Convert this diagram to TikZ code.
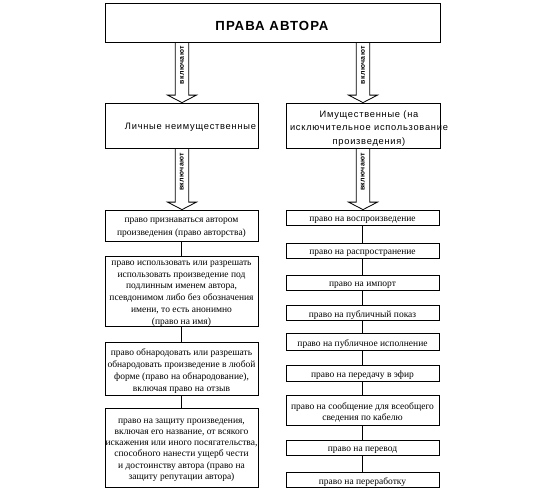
\documentclass[tikz,border=0pt]{standalone}
\usepackage{fontspec}
\setmainfont{Liberation Serif}
\newfontfamily\hdrfont[LetterSpace=8]{Liberation Sans}
\newfontfamily\arrfont[LetterSpace=6]{Liberation Sans}
\usetikzlibrary{calc}
\tikzset{
  box/.style={draw, line width=0.8pt, minimum width=153pt, inner sep=0pt},
  bt/.style={inner sep=0pt, align=center, font=\fontsize{9.5}{#1}\selectfont},
  bt/.default=11.8,
  ht/.style={inner sep=0pt, align=center, font=\hdrfont\fontsize{9.3}{13.3}\selectfont},
  link/.style={line width=0.8pt},
  fat/.style={draw, line width=0.8pt, fill=white, line join=miter},
  arrlabel/.style={rotate=90, inner sep=0pt, font=\arrfont\bfseries\fontsize{7}{8}\selectfont}
}
% \tbox[line skip]{name}{centre}{height}{text}
\newcommand\tbox[5][11.8]{%
  \node[box, minimum height=#4pt] (#2) at (#3) {};
  \node[bt=#1] (#2-t) at ($(#2.center)+(0,2.5)$) {#5};
}
\newcommand\fatarrow[3]{%
  \path[fat] let \p1=(#1), \p2=(#2) in
    (\x1-6.8pt,\y1) -- (\x1-6.8pt,\y2+7.5pt) -- (\x1-14.5pt,\y2+7.5pt) -- (\x1,\y2)
    -- (\x1+14.5pt,\y2+7.5pt) -- (\x1+6.8pt,\y2+7.5pt) -- (\x1+6.8pt,\y1) -- cycle;
  \node[arrlabel] (#3) at ($(#1)!0.38!(#2)$) {включают};
}
\begin{document}
\begin{tikzpicture}[x=1pt,y=-1pt]
\useasboundingbox (0,0) rectangle (545,488);
% title
\node[box, minimum width=335pt, minimum height=39pt] (T) at (272.5,22.5) {};
\node[inner sep=0pt, font=\hdrfont\bfseries\fontsize{13.2}{15}\selectfont] (T-t) at (272,25.5) {ПРАВА АВТОРА};
% headers
\node[box, minimum height=45pt] (HL) at (182,125.5) {};
\node[ht] (HL-t) at (190.5,127.5) {Личные неимущественные};
\node[box, minimum width=154pt, minimum height=45pt] (HR) at (363,125.5) {};
\node[ht] (HR-t) at (369,128.5) {Имущественные (на\\исключительное использование\\произведения)};
% arrows
\coordinate (a1s) at (T.south -| HL.north);
\coordinate (a2s) at (T.south -| HR.north);
\fatarrow{a1s}{HL.north}{lab1}
\fatarrow{a2s}{HR.north}{lab2}
% left column
\tbox[13.3]{L1}{181.5,225.5}{31}{право признаваться автором\\произведения (право авторства)}
\tbox[11.8]{L2}{181.5,291}{70}{право использовать или разрешать\\использовать произведение под\\подлинным именем автора,\\псевдонимом либо без обозначения\\имени, то есть анонимно\\(право на имя)}
\tbox[12.2]{L3}{181.5,368.5}{53}{право обнародовать или разрешать\\обнародовать произведение в любой\\форме (право на обнародование),\\включая право на отзыв}
\tbox[11.2]{L4}{181.5,447.5}{79}{право на защиту произведения,\\включая его название, от всякого\\искажения или иного посягательства,\\способного нанести ущерб чести\\и достоинству автора (право на\\защиту репутации автора)}
% right column
\tbox{R1}{362.5,217.5}{15}{право на воспроизведение}
\tbox{R2}{362.5,250.5}{15}{право на распространение}
\tbox{R3}{362.5,282.5}{15}{право на импорт}
\tbox{R4}{362.5,312.5}{15}{право на публичный показ}
\tbox{R5}{362.5,341.5}{17}{право на публичное исполнение}
\tbox{R6}{362.5,373}{16}{право на передачу в эфир}
\tbox[11.3]{R7}{362.5,410}{30}{право на сообщение для всеобщего\\сведения по кабелю}
\tbox{R8}{362.5,447.5}{15}{право на перевод}
\tbox{R9}{362.5,479.5}{15}{право на переработку}
% second arrows
\fatarrow{HL.south}{L1.north}{lab3}
\fatarrow{HR.south}{R1.north}{lab4}
% links
\draw[link] (L1) -- (L2);
\draw[link] (L2) -- (L3);
\draw[link] (L3) -- (L4);
\draw[link] (R1) -- (R2);
\draw[link] (R2) -- (R3);
\draw[link] (R3) -- (R4);
\draw[link] (R4) -- (R5);
\draw[link] (R5) -- (R6);
\draw[link] (R6) -- (R7);
\draw[link] (R7) -- (R8);
\draw[link] (R8) -- (R9);
\end{tikzpicture}
\end{document}
